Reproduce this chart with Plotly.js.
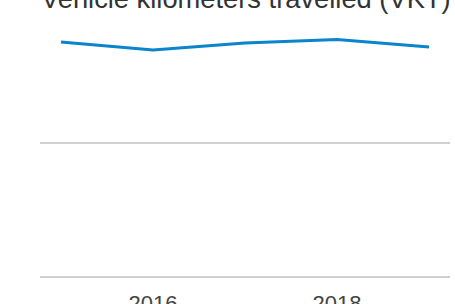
<!DOCTYPE html>
<html>
<head>
<meta charset="utf-8">
<script src="https://cdn.plot.ly/plotly-3.0.1.min.js"></script>
<style>html,body{margin:0;padding:0;background:#fff;}#chart{width:455px;height:304px;}</style>
</head>
<body>
<div id="chart"></div>
<script>
const years = [2015, 2016, 2017, 2018, 2019];
const vkt = [87.7, 84.7, 87.3, 88.6, 85.8];
const tickYears = [2016, 2018];
const tickLabels = ['2016', '2018'];
const chartTitle = 'Vehicle kilometers travelled (VKT)';

Plotly.newPlot('chart', [{
  x: years,
  y: vkt,
  type: 'scatter',
  mode: 'lines',
  line: {color: '#0a84cc', width: 3},
  hoverinfo: 'none'
}], {
  width: 455,
  height: 304,
  margin: {l: 40, r: 5, t: 20, b: 24, pad: 0},
  paper_bgcolor: '#ffffff',
  plot_bgcolor: '#ffffff',
  showlegend: false,
  annotations: [{
    text: chartTitle,
    font: {family: 'Liberation Sans, Arial, sans-serif', size: 27.3, color: '#333333'},
    xref: 'paper', x: 0, xanchor: 'left',
    yref: 'paper', y: 1.0827, yanchor: 'middle',
    showarrow: false,
    borderpad: 0
  }],
  xaxis: {
    range: [2014.772, 2019.228],
    tickvals: tickYears,
    ticktext: tickLabels,
    showgrid: false,
    zeroline: false,
    showline: false,
    ticks: 'outside',
    ticklen: 4,
    tickcolor: 'rgba(0,0,0,0)',
    tickfont: {family: 'Liberation Sans, Arial, sans-serif', size: 22, color: '#444444'}
  },
  yaxis: {
    range: [-1.12, 95.9],
    tickvals: [0, 50],
    showticklabels: false,
    showgrid: true,
    gridcolor: '#d0d0d0',
    gridwidth: 1.5,
    zeroline: false,
    showline: false,
    ticks: ''
  }
}, {displayModeBar: false, staticPlot: true});
</script>
</body>
</html>
